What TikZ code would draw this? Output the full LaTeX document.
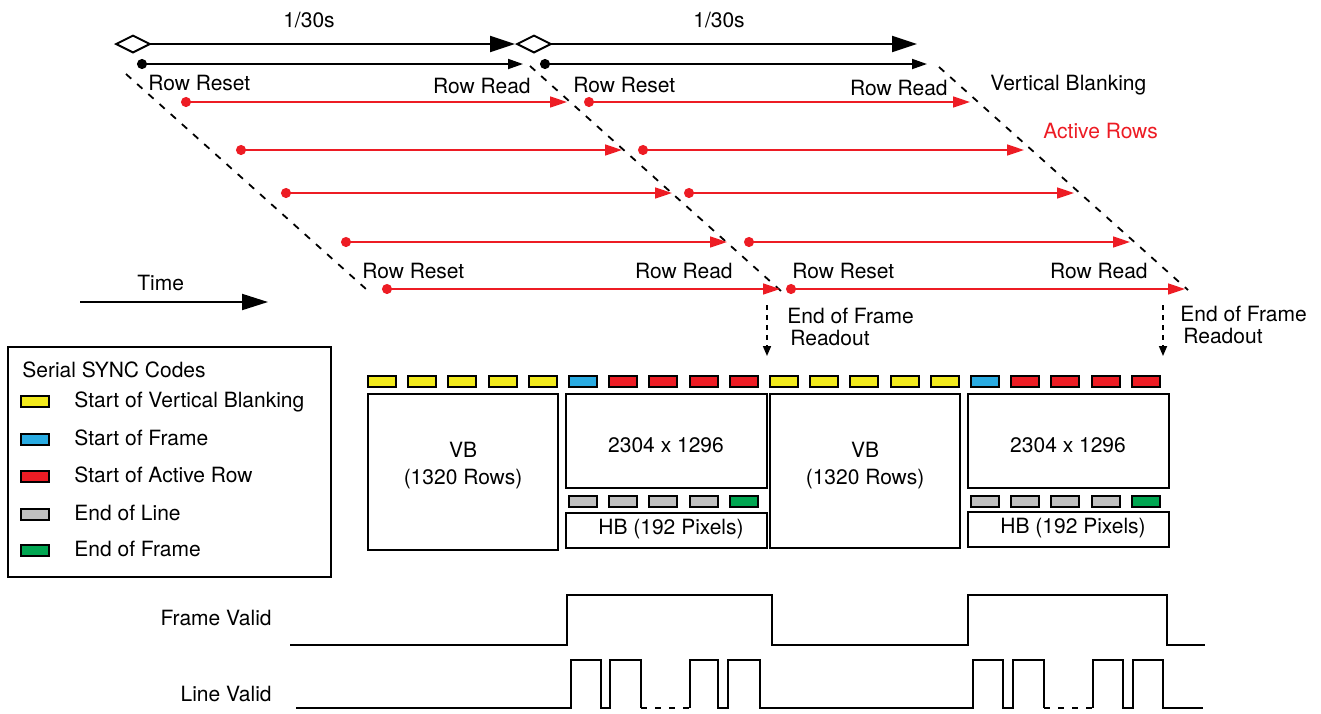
\documentclass[tikz,border=0pt]{standalone}
\usepackage{fontspec}
\setmainfont{TeX Gyre Heros}
\usetikzlibrary{arrows.meta,positioning,fit}
\definecolor{tsred}   {HTML}{ED1C24}
\definecolor{tsyellow}{HTML}{F2EA1C}
\definecolor{tsblue}  {HTML}{29ABE2}
\definecolor{tsgreen} {HTML}{00A651}
\definecolor{tsgray}  {HTML}{C0C0C0}
\tikzset{
  tstext/.style={font=\fontsize{10.5}{12.6}\selectfont, inner sep=0pt},
  tsperiod/.style={{Diamond[open,length=19pt,width=9.5pt]}-{Triangle[length=12.5pt,width=8pt]}, line width=1pt},
  tsspan/.style={{Circle[length=5pt]}-{Triangle[length=7.5pt,width=5pt]}, line width=0.9pt},
  tsrow/.style={{Circle[length=5pt]}-{Triangle[length=8.5pt,width=5.5pt]}, draw=tsred, line width=0.8pt},
  tsdiag/.style={dash pattern=on 3.5pt off 4pt, line width=0.9pt},
  tseof/.style={-{Triangle[length=5pt,width=4pt]}, dash pattern=on 2.5pt off 2.5pt, line width=0.8pt},
  tstime/.style={-{Triangle[length=13pt,width=8pt]}, line width=1pt},
  tsbox/.style={draw, line width=1pt, inner sep=0pt},
  tscode/.style={draw, line width=1pt, minimum width=14pt, minimum height=5.5pt, inner sep=0pt},
  tswave/.style={line width=0.9pt, line join=miter},
}
\begin{document}
\begin{tikzpicture}[x=0.5pt,y=-0.5pt]
  \useasboundingbox (0,0) rectangle (1321,713);
  % frame periods
  \coordinate (f0) at (114,44); \coordinate (f1) at (515,44); \coordinate (f2) at (917,44);
  \draw[tsperiod] (f0) -- (f1);
  \draw[tsperiod] (f1) -- (f2);
  \node[tstext, anchor=base] (per1) at (309,27) {1/30s};
  \node[tstext, anchor=base] (per2) at (719,27) {1/30s};
  \coordinate (s1a) at (137,64); \coordinate (s1b) at (523,64);
  \coordinate (s2a) at (540,64); \coordinate (s2b) at (927,64);
  \draw[tsspan] (s1a) -- (s1b);
  \draw[tsspan] (s2a) -- (s2b);
  % reset / read fronts
  \coordinate (d1a) at (126,74);  \coordinate (d1b) at (366,289);
  \coordinate (d2a) at (530,66);  \coordinate (d2b) at (781,291);
  \coordinate (d3a) at (939,67);  \coordinate (d3b) at (1188,290);
  \draw[tsdiag] (d1a) -- (d1b);
  \draw[tsdiag] (d2a) -- (d2b);
  \draw[tsdiag] (d3a) -- (d3b);
  % active rows
  \foreach \y/\a/\b/\c/\d [count=\i] in {102/186/567/589/970, 150/241/622/643/1024,
      193/286/672/689/1074, 242/346/727/749/1130, 289/387/780/791/1185} {
    \coordinate (ra\i) at ({\a-5},\y); \coordinate (rb\i) at (\b,\y);
    \coordinate (rc\i) at ({\c-5},\y); \coordinate (rd\i) at (\d,\y);
    \draw[tsrow] (ra\i) -- (rb\i);
    \draw[tsrow] (rc\i) -- (rd\i);
  }
  \node[tstext, anchor=base west] (rst1) at (148,90) {Row Reset};
  \node[tstext, anchor=base east] (rd1) at (531,93) {Row Read};
  \node[tstext, anchor=base west] (rst2) at (573,92) {Row Reset};
  \node[tstext, anchor=base east] (rd2) at (948,95) {Row Read};
  \node[tstext, anchor=base west] (vblank) at (990,90) {Vertical Blanking};
  \node[tstext, anchor=base west, text=tsred] (active) at (1043,138) {Active Rows};
  \node[tstext, anchor=base west] (rst3) at (362,278) {Row Reset};
  \node[tstext, anchor=base east] (rd3) at (733,278) {Row Read};
  \node[tstext, anchor=base west] (rst4) at (792,278) {Row Reset};
  \node[tstext, anchor=base east] (rd4) at (1148,278) {Row Read};
  % time axis
  \coordinate (t0) at (80,302); \coordinate (t1) at (268,302);
  \draw[tstime] (t0) -- (t1);
  \node[tstext, anchor=base west] (time) at (137,290) {Time};
  % end of frame readout
  \coordinate (e1a) at (767,305); \coordinate (e1b) at (767,356);
  \coordinate (e2a) at (1163,305); \coordinate (e2b) at (1163,356);
  \draw[tseof] (e1a) -- (e1b);
  \draw[tseof] (e2a) -- (e2b);
  \node[tstext, anchor=base west] (eof1) at (787,323) {End of Frame};
  \node[tstext, anchor=base west] (ro1) at (790,345) {Readout};
  \node[tstext, anchor=base west] (eof2) at (1180,321) {End of Frame};
  \node[tstext, anchor=base west] (ro2) at (1183,343) {Readout};
  % legend
  \node[tsbox, fit={(8,347) (331,577)}] (legend) {};
  \node[tstext, anchor=base west] (legt) at (22,377) {Serial SYNC Codes};
  \foreach \c/\y/\t [count=\i] in {tsyellow/401/Start of Vertical Blanking, tsblue/439/Start of Frame,
      tsred/476/Start of Active Row, tsgray/514/End of Line, tsgreen/550/End of Frame} {
    \node[tscode, fill=\c] (key\i) at (35,\y) {};
    \node[tstext, anchor=base west] (keyt\i) at (74,{\y+6}) {\t};
  }
  % sync codes
  \foreach \c [count=\i from 0] in {tsyellow,tsyellow,tsyellow,tsyellow,tsyellow,tsblue,tsred,tsred,tsred,tsred,
      tsyellow,tsyellow,tsyellow,tsyellow,tsyellow,tsblue,tsred,tsred,tsred,tsred}
    \node[tscode, fill=\c] (code\i) at ({382+40.2*\i},381) {};
  \foreach \c/\i in {tsgray/5,tsgray/6,tsgray/7,tsgray/8,tsgreen/9,tsgray/15,tsgray/16,tsgray/17,tsgray/18,tsgreen/19}
    \node[tscode, fill=\c] (eol\i) at ({382+40.2*\i},501) {};
  % frame layout
  \node[tsbox, fit={(368,394) (558,550)}] (vb1) {};
  \node[tsbox, fit={(566,394) (767,488)}] (img1) {};
  \node[tsbox, fit={(566,513) (767,548)}] (hb1) {};
  \node[tsbox, fit={(770,394) (960,548)}] (vb2) {};
  \node[tsbox, fit={(968,394) (1169,488)}] (img2) {};
  \node[tsbox, fit={(968,512) (1169,547)}] (hb2) {};
  \node[tstext, anchor=base] (vb1a) at (463,457) {VB};
  \node[tstext, anchor=base] (vb1b) at (463,484) {(1320 Rows)};
  \node[tstext, anchor=base] (img1t) at (666,452) {2304 x 1296};
  \node[tstext, anchor=base] (hb1t) at (671,534) {HB (192 Pixels)};
  \node[tstext, anchor=base] (vb2a) at (865,457) {VB};
  \node[tstext, anchor=base] (vb2b) at (865,484) {(1320 Rows)};
  \node[tstext, anchor=base] (img2t) at (1068,452) {2304 x 1296};
  \node[tstext, anchor=base] (hb2t) at (1073,533) {HB (192 Pixels)};
  % valid signals
  \node[tstext, anchor=base east] (fv) at (272,625) {Frame Valid};
  \node[tstext, anchor=base east] (lv) at (272,701) {Line Valid};
  \draw[tswave] (290,645) -- (567,645) -- (567,595) -- (772,595) -- (772,645) -- (968,645)
    -- (968,595) -- (1167,595) -- (1167,645) -- (1205,645);
  \draw[tswave] (296,708) -- (571,708) -- (571,660) -- (601,660) -- (601,708) -- (610,708)
    -- (610,660) -- (641,660) -- (641,708);
  \draw[tswave] (690,708) -- (690,660) -- (718,660) -- (718,708) -- (728,708) -- (728,660)
    -- (760,660) -- (760,708) -- (973,708) -- (973,660) -- (1003,660) -- (1003,708)
    -- (1013,708) -- (1013,660) -- (1044,660) -- (1044,708);
  \draw[tswave] (1093,708) -- (1093,660) -- (1123,660) -- (1123,708) -- (1133,708)
    -- (1133,660) -- (1163,660) -- (1163,708) -- (1203,708);
  \draw[tswave, dash pattern=on 3pt off 4pt] (641,708) -- (690,708);
  \draw[tswave, dash pattern=on 3pt off 4pt] (1044,708) -- (1093,708);
\end{tikzpicture}
\end{document}
